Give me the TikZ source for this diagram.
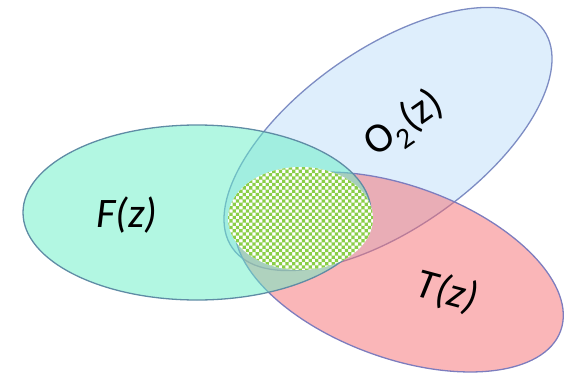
\documentclass[tikz,border=0pt]{standalone}
\usepackage{fontspec}
\setmainfont{Carlito}
\definecolor{fillF}{RGB}{101,239,197}
\definecolor{fillO}{RGB}{189,221,249}
\definecolor{fillT}{RGB}{245,109,113}
\definecolor{lineF}{RGB}{95,140,165}
\definecolor{lineO}{RGB}{125,140,195}
\definecolor{lineT}{RGB}{125,125,190}
\definecolor{chk}{RGB}{138,206,72}
\begin{document}
\begin{tikzpicture}[x=1pt,y=1pt,
  setO/.style={fill=fillO, fill opacity=0.5, draw=lineO, draw opacity=1, line width=1.3pt},
  setT/.style={fill=fillT, fill opacity=0.5, draw=lineT, draw opacity=1, line width=1.3pt},
  setF/.style={fill=fillF, fill opacity=0.5, draw=lineF, draw opacity=1, line width=1.3pt},
  lab/.style={font=\fontsize{42}{42}\selectfont, text=black, inner sep=0pt}]
\useasboundingbox (0,0) rectangle (577,373);
% O2 set (bottom)
\draw[setO, rotate around={35:(388,234)}] (388,234) ellipse [x radius=190, y radius=90];
% T set
\draw[setT, rotate around={-20:(399,101)}] (399,101) ellipse [x radius=172, y radius=86];
% F set (top)
\draw[setF] (197,160.5) ellipse [x radius=174, y radius=87.5];
% checkered intersection
\begin{scope}
  \clip (300.5,154.5) ellipse [x radius=72.5, y radius=51.5];
  \fill[white] (226,101) rectangle (376,208);
  \fill[chk] \foreach \j [evaluate=\j as \off using {226+mod(\j,2)*3.3}] in {0,...,32} {
      \foreach \i in {0,...,23} { ({\off+\i*6.6},{101+\j*3.3}) rectangle ++(3.3,3.3) }
    };
\end{scope}
% labels
\node[lab] (F) at (127,158) {\itshape F(z)};
\node[lab, rotate=35] (O) at (405,248) {O\textsubscript{2}(z)};
\node[lab, rotate=-15] (T) at (447,81) {\itshape T(z)};
\end{tikzpicture}
\end{document}
